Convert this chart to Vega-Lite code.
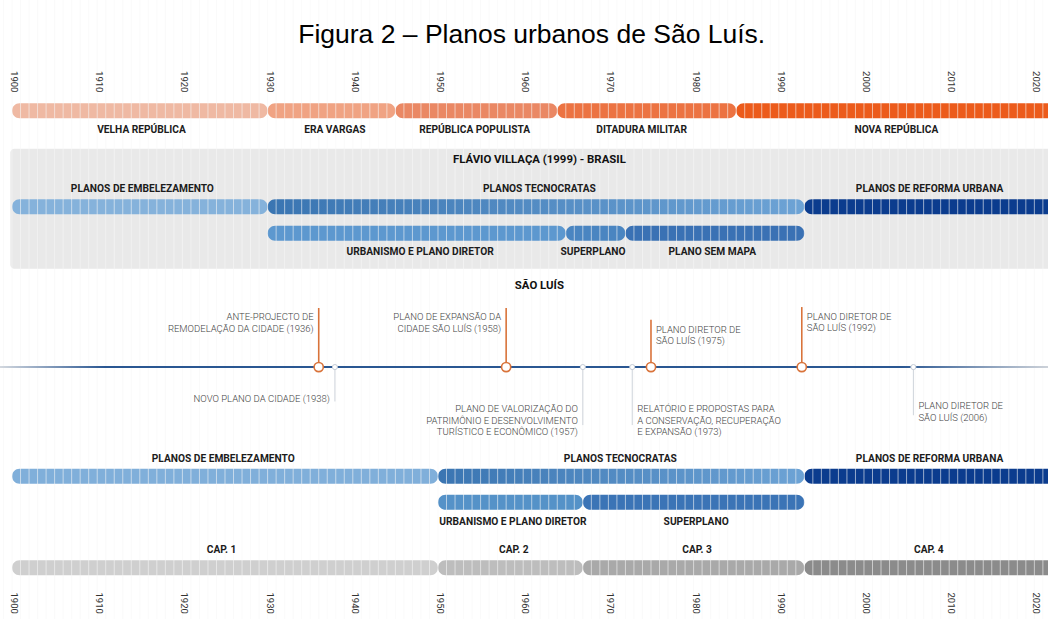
{
  "$schema": "https://vega.github.io/schema/vega-lite/v6.json",
  "width": 1048,
  "height": 619,
  "padding": 0,
  "autosize": {"type": "none"},
  "background": "white",
  "config": {"view": {"stroke": null}},
  "datasets": {
    "bars": [
      {"id": "vr", "start": 1900, "end": 1930, "lane": 107.5},
      {"id": "ev", "start": 1930, "end": 1945, "lane": 107.5},
      {"id": "rp", "start": 1945, "end": 1964, "lane": 107.5},
      {"id": "dm", "start": 1964, "end": 1985, "lane": 107.5},
      {"id": "nr", "start": 1985, "end": 2023, "lane": 107.5},
      {"id": "emb1", "start": 1900, "end": 1930, "lane": 205},
      {"id": "tec1", "start": 1930, "end": 1993, "lane": 205},
      {"id": "ref1", "start": 1993, "end": 2023, "lane": 205},
      {"id": "urb1", "start": 1930, "end": 1965, "lane": 232},
      {"id": "sup1", "start": 1965, "end": 1972, "lane": 232},
      {"id": "sem1", "start": 1972, "end": 1993, "lane": 232},
      {"id": "emb2", "start": 1900, "end": 1950, "lane": 479},
      {"id": "tec2", "start": 1950, "end": 1993, "lane": 479},
      {"id": "ref2", "start": 1993, "end": 2023, "lane": 479},
      {"id": "urb2", "start": 1950, "end": 1967, "lane": 505.5},
      {"id": "sup2", "start": 1967, "end": 1993, "lane": 505.5},
      {"id": "cap1", "start": 1900, "end": 1950, "lane": 572},
      {"id": "cap2", "start": 1950, "end": 1967, "lane": 572},
      {"id": "cap3", "start": 1967, "end": 1993, "lane": 572},
      {"id": "cap4", "start": 1993, "end": 2023, "lane": 572}
    ],
    "labels": [
      {"text": "VELHA REPÚBLICA", "x": 1915.2, "lane": 127, "kind": "bar"},
      {"text": "ERA VARGAS", "x": 1937.9, "lane": 127, "kind": "bar"},
      {"text": "REPÚBLICA POPULISTA", "x": 1954.3, "lane": 127, "kind": "bar"},
      {"text": "DITADURA MILITAR", "x": 1973.9, "lane": 127, "kind": "bar"},
      {"text": "NOVA REPÚBLICA", "x": 2003.8, "lane": 127, "kind": "bar"},
      {"text": "FLÁVIO VILLAÇA (1999) - BRASIL", "x": 1961.9, "lane": 158, "kind": "head"},
      {"text": "PLANOS DE EMBELEZAMENTO", "x": 1915.3, "lane": 187, "kind": "bar"},
      {"text": "PLANOS TECNOCRATAS", "x": 1961.9, "lane": 187, "kind": "bar"},
      {"text": "PLANOS DE REFORMA URBANA", "x": 2007.7, "lane": 187, "kind": "bar"},
      {"text": "URBANISMO E PLANO DIRETOR", "x": 1947.9, "lane": 251, "kind": "bar"},
      {"text": "SUPERPLANO", "x": 1968.2, "lane": 251, "kind": "bar"},
      {"text": "PLANO SEM MAPA", "x": 1982.2, "lane": 251, "kind": "bar"},
      {"text": "SÃO LUÍS", "x": 1961.9, "lane": 286, "kind": "head"},
      {"text": "PLANOS DE EMBELEZAMENTO", "x": 1924.8, "lane": 461, "kind": "bar"},
      {"text": "PLANOS TECNOCRATAS", "x": 1971.4, "lane": 461, "kind": "bar"},
      {"text": "PLANOS DE REFORMA URBANA", "x": 2007.7, "lane": 461, "kind": "bar"},
      {"text": "URBANISMO E PLANO DIRETOR", "x": 1958.8, "lane": 525, "kind": "bar"},
      {"text": "SUPERPLANO", "x": 1980.3, "lane": 525, "kind": "bar"},
      {"text": "CAP. 1", "x": 1924.6, "lane": 554, "kind": "bar"},
      {"text": "CAP. 2", "x": 1958.9, "lane": 554, "kind": "bar"},
      {"text": "CAP. 3", "x": 1980.4, "lane": 554, "kind": "bar"},
      {"text": "CAP. 4", "x": 2007.6, "lane": 554, "kind": "bar"}
    ],
    "events": [
      {"pos": 1936, "from": 308, "to": 368, "kind": "major", "side": "right", "ly": 317.5, "text": "ANTE-PROJECTO  DE\nREMODELAÇÃO DA CIDADE (1936)"},
      {"pos": 1958, "from": 308, "to": 368, "kind": "major", "side": "right", "ly": 317.5, "text": "PLANO DE EXPANSÃO DA\nCIDADE SÃO LUÍS (1958)"},
      {"pos": 1975, "from": 320, "to": 368, "kind": "major", "side": "left", "ly": 330.5, "text": "PLANO DIRETOR DE\nSÃO LUÍS (1975)"},
      {"pos": 1992.7, "from": 307, "to": 368, "kind": "major", "side": "left", "ly": 317, "text": "PLANO DIRETOR DE\nSÃO LUÍS (1992)"},
      {"pos": 1937.9, "from": 368, "to": 403, "kind": "minor", "side": "right", "ly": 400, "text": "NOVO PLANO DA CIDADE (1938)"},
      {"pos": 1967, "from": 368, "to": 427, "kind": "minor", "side": "right", "ly": 411, "text": "PLANO DE VALORIZAÇÃO DO\nPATRIMÔNIO E DESENVOLVIMENTO\nTURÍSTICO E ECONÔMICO (1957)"},
      {"pos": 1972.8, "from": 368, "to": 427, "kind": "minor", "side": "left", "ly": 411, "text": "RELATÓRIO E PROPOSTAS PARA\nA CONSERVAÇÃO, RECUPERAÇÃO\nE EXPANSÃO (1973)"},
      {"pos": 2005.8, "from": 368, "to": 417, "kind": "minor", "side": "left", "ly": 408, "text": "PLANO DIRETOR DE\nSÃO LUÍS (2006)"}
    ],
    "years": [
      {"year": 1899}, {"year": 1900}, {"year": 1901}, {"year": 1902}, {"year": 1903}, {"year": 1904}, {"year": 1905}, {"year": 1906}, {"year": 1907}, {"year": 1908}, {"year": 1909},
      {"year": 1910}, {"year": 1911}, {"year": 1912}, {"year": 1913}, {"year": 1914}, {"year": 1915}, {"year": 1916}, {"year": 1917}, {"year": 1918}, {"year": 1919},
      {"year": 1920}, {"year": 1921}, {"year": 1922}, {"year": 1923}, {"year": 1924}, {"year": 1925}, {"year": 1926}, {"year": 1927}, {"year": 1928}, {"year": 1929},
      {"year": 1930}, {"year": 1931}, {"year": 1932}, {"year": 1933}, {"year": 1934}, {"year": 1935}, {"year": 1936}, {"year": 1937}, {"year": 1938}, {"year": 1939},
      {"year": 1940}, {"year": 1941}, {"year": 1942}, {"year": 1943}, {"year": 1944}, {"year": 1945}, {"year": 1946}, {"year": 1947}, {"year": 1948}, {"year": 1949},
      {"year": 1950}, {"year": 1951}, {"year": 1952}, {"year": 1953}, {"year": 1954}, {"year": 1955}, {"year": 1956}, {"year": 1957}, {"year": 1958}, {"year": 1959},
      {"year": 1960}, {"year": 1961}, {"year": 1962}, {"year": 1963}, {"year": 1964}, {"year": 1965}, {"year": 1966}, {"year": 1967}, {"year": 1968}, {"year": 1969},
      {"year": 1970}, {"year": 1971}, {"year": 1972}, {"year": 1973}, {"year": 1974}, {"year": 1975}, {"year": 1976}, {"year": 1977}, {"year": 1978}, {"year": 1979},
      {"year": 1980}, {"year": 1981}, {"year": 1982}, {"year": 1983}, {"year": 1984}, {"year": 1985}, {"year": 1986}, {"year": 1987}, {"year": 1988}, {"year": 1989},
      {"year": 1990}, {"year": 1991}, {"year": 1992}, {"year": 1993}, {"year": 1994}, {"year": 1995}, {"year": 1996}, {"year": 1997}, {"year": 1998}, {"year": 1999},
      {"year": 2000}, {"year": 2001}, {"year": 2002}, {"year": 2003}, {"year": 2004}, {"year": 2005}, {"year": 2006}, {"year": 2007}, {"year": 2008}, {"year": 2009},
      {"year": 2010}, {"year": 2011}, {"year": 2012}, {"year": 2013}, {"year": 2014}, {"year": 2015}, {"year": 2016}, {"year": 2017}, {"year": 2018}, {"year": 2019},
      {"year": 2020}, {"year": 2021}
    ],
    "decades": [
      {"year": 1900, "label": "1900"}, {"year": 1910, "label": "1910"}, {"year": 1920, "label": "1920"}, {"year": 1930, "label": "1930"},
      {"year": 1940, "label": "1940"}, {"year": 1950, "label": "1950"}, {"year": 1960, "label": "1960"}, {"year": 1970, "label": "1970"},
      {"year": 1980, "label": "1980"}, {"year": 1990, "label": "1990"}, {"year": 2000, "label": "2000"}, {"year": 2010, "label": "2010"},
      {"year": 2020, "label": "2020"}
    ]
  },
  "layer": [
    {
      "data": {"values": [{"start": 1899.8, "end": 2023, "top": 146, "bottom": 268}]},
      "mark": {"type": "rect", "color": "#e9e9e9", "cornerRadius": 4, "clip": true},
      "encoding": {
        "x": {"field": "start", "type": "quantitative", "scale": {"domain": [1898.59, 2021.6], "nice": false, "zero": false}, "axis": null},
        "x2": {"field": "end"},
        "y": {"field": "top", "type": "quantitative", "scale": {"domain": [0, 619], "reverse": true, "nice": false, "zero": false}, "axis": null},
        "y2": {"field": "bottom"}
      }
    },
    {
      "data": {"name": "bars"},
      "transform": [{"filter": "datum.id !== 'tec1' && datum.id !== 'tec2'"}],
      "mark": {"type": "bar", "size": 15, "cornerRadius": 7.5, "clip": true},
      "encoding": {
        "x": {"field": "start", "type": "quantitative"},
        "x2": {"field": "end"},
        "y": {"field": "lane", "type": "quantitative"},
        "color": {
          "field": "id", "type": "nominal", "legend": null,
          "scale": {
            "domain": ["vr", "ev", "rp", "dm", "nr", "emb1", "ref1", "urb1", "sup1", "sem1", "emb2", "ref2", "urb2", "sup2", "cap1", "cap2", "cap3", "cap4"],
            "range": ["#efb9a3", "#f0a383", "#ea8864", "#ec7342", "#ec5b1b", "#85b2db", "#0b3c8e", "#5d98cf", "#4a85c1", "#3a71b4", "#80afda", "#0b3c8e", "#5592c8", "#3b74b6", "#cfcfcf", "#bdbdbd", "#a9a9a9", "#8b8b8b"]
          }
        }
      }
    },
    {
      "data": {"name": "bars"},
      "transform": [{"filter": "datum.id === 'tec1' || datum.id === 'tec2'"}],
      "mark": {"type": "bar", "size": 15, "cornerRadius": 7.5, "clip": true,
        "color": {"gradient": "linear", "x1": 0, "y1": 0, "x2": 1, "y2": 0,
          "stops": [{"offset": 0, "color": "#3a75b2"}, {"offset": 1, "color": "#6da3d5"}]}},
      "encoding": {
        "x": {"field": "start", "type": "quantitative"},
        "x2": {"field": "end"},
        "y": {"field": "lane", "type": "quantitative"}
      }
    },
    {
      "data": {"name": "years"},
      "mark": {"type": "rule", "color": "#f7f7f7", "strokeWidth": 1, "opacity": 0.6},
      "encoding": {
        "x": {"field": "year", "type": "quantitative"}
      }
    },
    {
      "data": {"values": [{"start": 1898.59, "end": 2021.6, "lane": 368}]},
      "mark": {"type": "bar", "size": 2,
        "color": {"gradient": "linear", "x1": 0, "y1": 0, "x2": 1, "y2": 0,
          "stops": [{"offset": 0, "color": "#d3d8df"}, {"offset": 0.1, "color": "#2a5792"}, {"offset": 0.86, "color": "#2a5792"}, {"offset": 1, "color": "#cdd2d9"}]}},
      "encoding": {
        "x": {"field": "start", "type": "quantitative"},
        "x2": {"field": "end"},
        "y": {"field": "lane", "type": "quantitative"}
      }
    },
    {
      "data": {"name": "events"},
      "transform": [{"filter": "datum.kind === 'major'"}],
      "mark": {"type": "rule", "color": "#d9733a", "strokeWidth": 1.6},
      "encoding": {
        "x": {"field": "pos", "type": "quantitative"},
        "y": {"field": "from", "type": "quantitative"},
        "y2": {"field": "to"}
      }
    },
    {
      "data": {"name": "events"},
      "transform": [{"filter": "datum.kind === 'minor'"}],
      "mark": {"type": "rule", "color": "#cfd4db", "strokeWidth": 1},
      "encoding": {
        "x": {"field": "pos", "type": "quantitative"},
        "y": {"field": "from", "type": "quantitative"},
        "y2": {"field": "to"}
      }
    },
    {
      "data": {"name": "events"},
      "transform": [{"filter": "datum.kind === 'major'"}],
      "mark": {"type": "point", "shape": "circle", "filled": true, "fill": "white", "stroke": "#d9733a", "strokeWidth": 1.6, "size": 85, "opacity": 1},
      "encoding": {
        "x": {"field": "pos", "type": "quantitative"},
        "y": {"datum": 368}
      }
    },
    {
      "data": {"name": "events"},
      "transform": [{"filter": "datum.kind === 'minor'"}],
      "mark": {"type": "point", "shape": "circle", "filled": true, "fill": "white", "stroke": "#c3cbd6", "strokeWidth": 1, "size": 26, "opacity": 1},
      "encoding": {
        "x": {"field": "pos", "type": "quantitative"},
        "y": {"datum": 368}
      }
    },
    {
      "data": {"name": "events"},
      "transform": [{"filter": "datum.side === 'right'"}],
      "mark": {"type": "text", "font": "Roboto", "fontWeight": 300, "fontSize": 9.5, "color": "#444444", "align": "right", "baseline": "middle", "dx": -5, "lineBreak": "\n", "lineHeight": 11.2},
      "encoding": {
        "x": {"field": "pos", "type": "quantitative"},
        "y": {"field": "ly", "type": "quantitative"},
        "text": {"field": "text"}
      }
    },
    {
      "data": {"name": "events"},
      "transform": [{"filter": "datum.side === 'left'"}],
      "mark": {"type": "text", "font": "Roboto", "fontWeight": 300, "fontSize": 9.5, "color": "#444444", "align": "left", "baseline": "middle", "dx": 5, "lineBreak": "\n", "lineHeight": 11.2},
      "encoding": {
        "x": {"field": "pos", "type": "quantitative"},
        "y": {"field": "ly", "type": "quantitative"},
        "text": {"field": "text"}
      }
    },
    {
      "data": {"name": "labels"},
      "transform": [{"filter": "datum.kind === 'bar'"}],
      "mark": {"type": "text", "font": "Roboto", "fontWeight": "bold", "fontSize": 10.2, "color": "#1c1c1c", "align": "center", "baseline": "middle"},
      "encoding": {
        "x": {"field": "x", "type": "quantitative"},
        "y": {"field": "lane", "type": "quantitative"},
        "text": {"field": "text"}
      }
    },
    {
      "data": {"name": "labels"},
      "transform": [{"filter": "datum.kind === 'head'"}],
      "mark": {"type": "text", "font": "Roboto", "fontWeight": "bold", "fontSize": 11.4, "color": "#111111", "align": "center", "baseline": "middle"},
      "encoding": {
        "x": {"field": "x", "type": "quantitative"},
        "y": {"field": "lane", "type": "quantitative"},
        "text": {"field": "text"}
      }
    },
    {
      "data": {"name": "decades"},
      "mark": {"type": "text", "font": "Roboto", "fontSize": 9.5, "color": "#333333", "angle": 90, "align": "center", "baseline": "middle", "dy": -2},
      "encoding": {
        "x": {"field": "year", "type": "quantitative"},
        "y": {"datum": 78},
        "text": {"field": "label"}
      }
    },
    {
      "data": {"name": "decades"},
      "mark": {"type": "text", "font": "Roboto", "fontSize": 9.5, "color": "#333333", "angle": 90, "align": "center", "baseline": "middle", "dy": -2},
      "encoding": {
        "x": {"field": "year", "type": "quantitative"},
        "y": {"datum": 608},
        "text": {"field": "label"}
      }
    },
    {
      "data": {"values": [{"text": "Figura 2 – Planos urbanos de São Luís.", "x": 1961.0, "lane": 30}]},
      "mark": {"type": "text", "font": "Liberation Sans", "fontSize": 26.5, "color": "#000000", "align": "center", "baseline": "middle"},
      "encoding": {
        "x": {"field": "x", "type": "quantitative"},
        "y": {"field": "lane", "type": "quantitative"},
        "text": {"field": "text"}
      }
    }
  ]
}
